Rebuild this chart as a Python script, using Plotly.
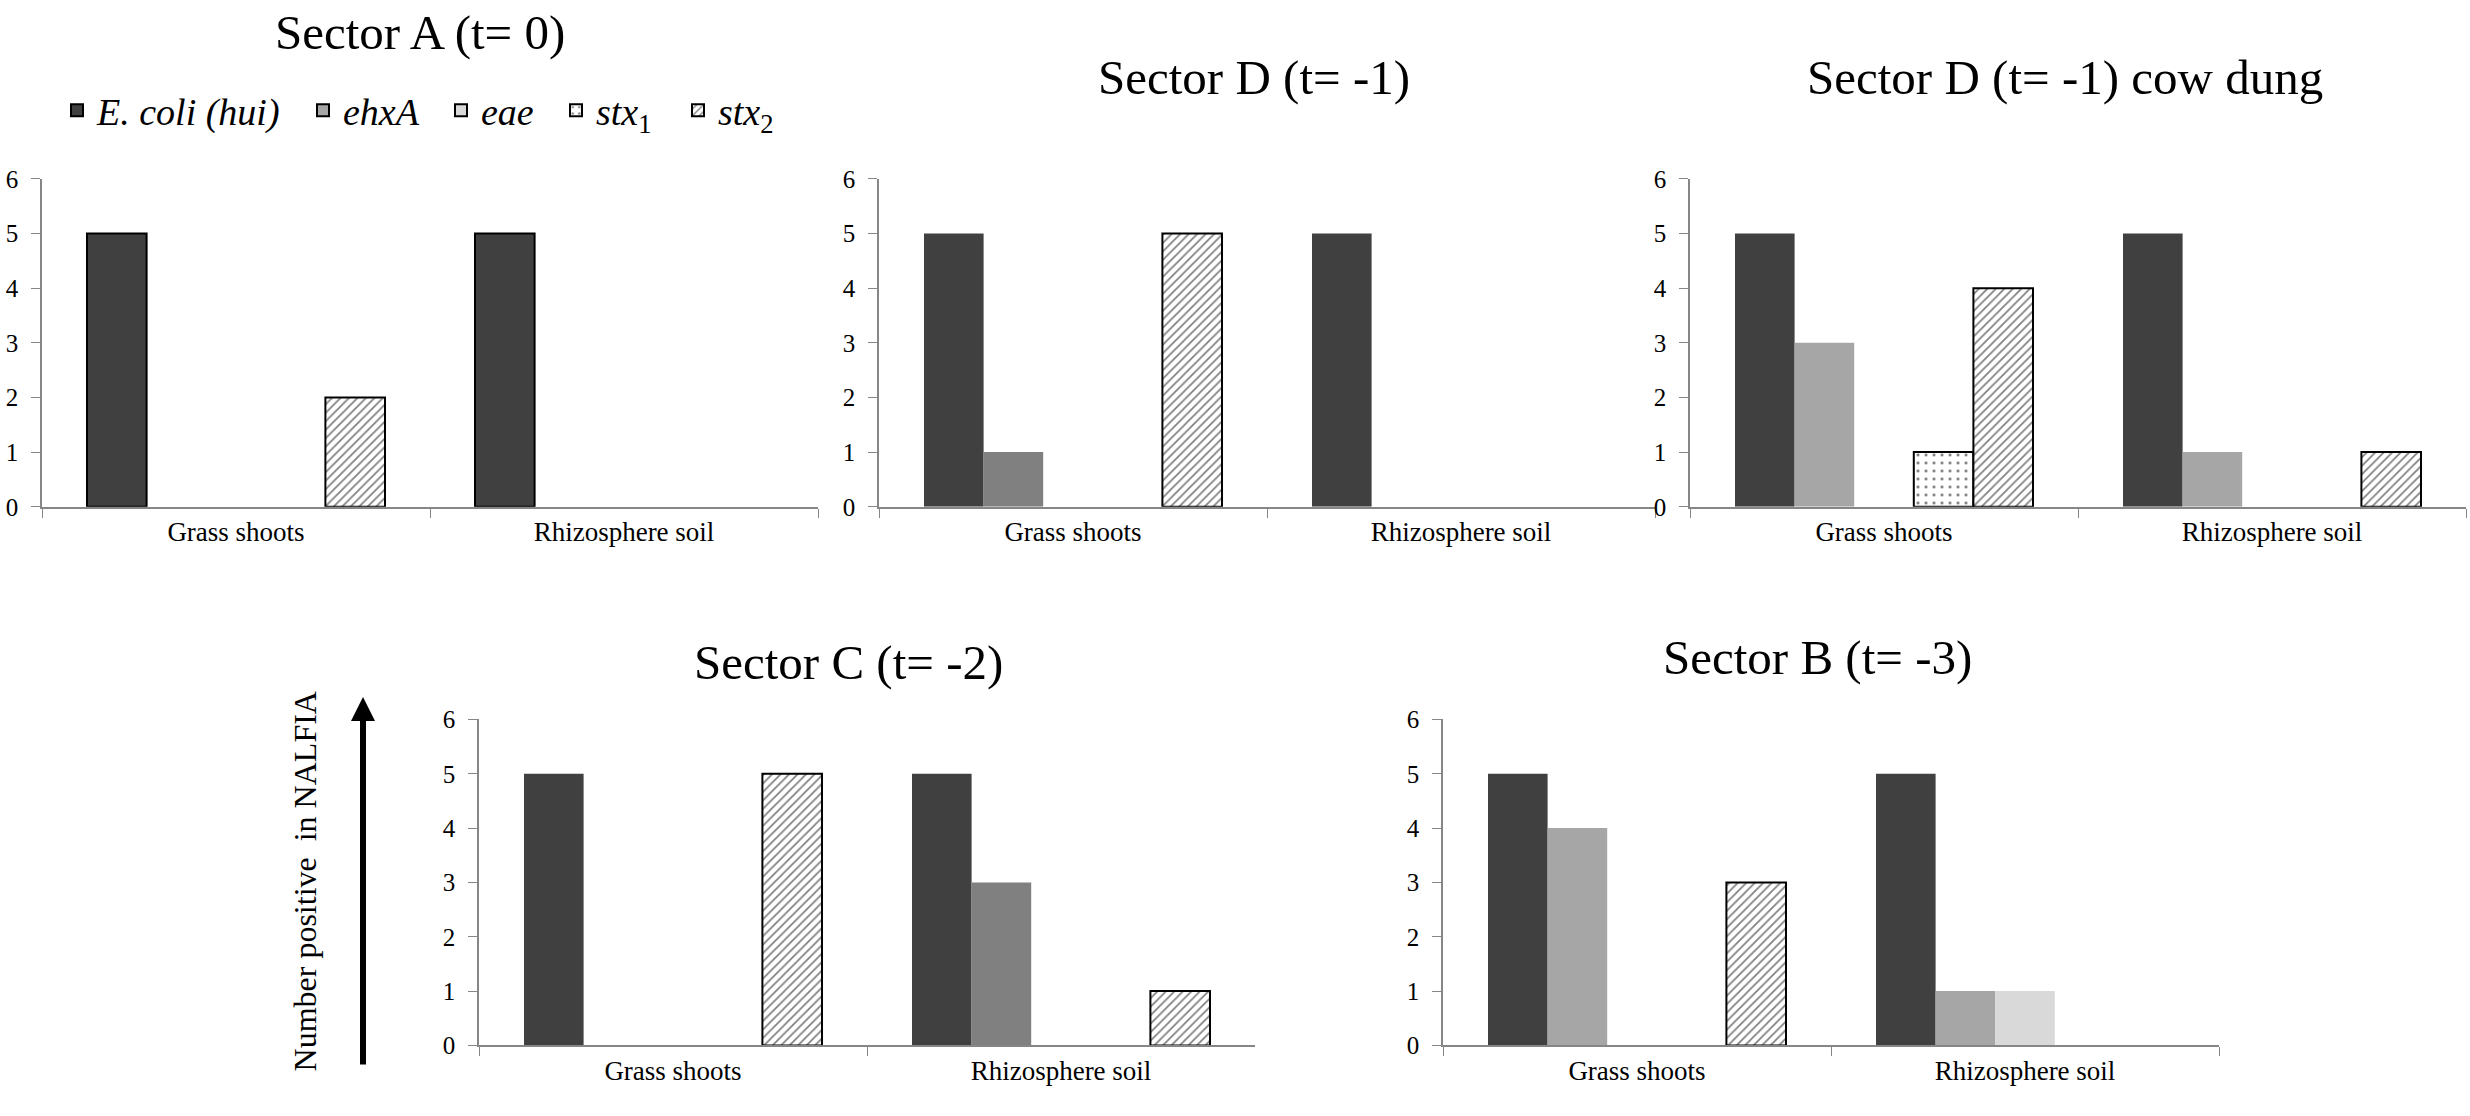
import plotly.graph_objects as go

W, H = 2470, 1116
FONT = "Liberation Serif, Times New Roman, serif"

categories = ["Grass shoots", "Rhizosphere soil"]
gene_names = ["<i>E. coli (hui)</i>", "<i>ehxA</i>", "<i>eae</i>",
              "<i>stx</i><sub>1</sub>", "<i>stx</i><sub>2</sub>"]
y_ticks = [0, 1, 2, 3, 4, 5, 6]

# number positive per gene: E. coli, ehxA, eae, stx1, stx2
a_grass = [5, 0, 0, 0, 2]
a_rhizo = [5, 0, 0, 0, 0]
d_grass = [5, 1, 0, 0, 5]
d_rhizo = [5, 0, 0, 0, 0]
dung_grass = [5, 3, 0, 1, 4]
dung_rhizo = [5, 1, 0, 0, 1]
c_grass = [5, 0, 0, 0, 5]
c_rhizo = [5, 3, 0, 0, 1]
b_grass = [5, 4, 0, 0, 3]
b_rhizo = [5, 1, 1, 0, 0]

titles = ["Sector A (t= 0)", "Sector D (t= -1)", "Sector D (t= -1) cow dung",
          "Sector C (t= -2)", "Sector B (t= -3)"]
y_label = "Number positive&nbsp; in NALFIA"


def px_x(v):
    return v / W


def px_y(v):
    return 1 - v / H


# panel layout in pixels: (x0, x1, y_top(6), y_bottom(0)), title centre, ehxA grey, outline all bars
panels = [
    (titles[0], a_grass, a_rhizo, (42, 818, 170, 506), (420, 20), "#a6a6a6", True),
    (titles[1], d_grass, d_rhizo, (879, 1655, 170, 506), (1254, 66), "#808080", False),
    (titles[2], dung_grass, dung_rhizo, (1690, 2466, 170, 506), (2065, 66), "#a6a6a6", False),
    (titles[3], c_grass, c_rhizo, (479, 1255, 724, 1058), (848, 666), "#808080", False),
    (titles[4], b_grass, b_rhizo, (1443, 2219, 724, 1058), (1817, 660), "#a6a6a6", False),
]

# left edge of each legend entry (one legend per gene so the spacing can follow the original)
legend_x = [57, 303, 441, 556, 678]
legend_y = 100

fig = go.Figure()
annotations = []
layout_extra = {}

for i, (title, grass, rhizo, box, tpos, ehxa_col, outline_all) in enumerate(panels):
    n = "" if i == 0 else str(i + 1)
    fills = ["#404040", ehxa_col, "#d9d9d9", "white", "white"]
    patterns = ["", "", "", ".", "/"]
    for g in range(5):
        # zero counts give no bar (avoids an outline drawn on the axis)
        vals = [v if v > 0 else None for v in (grass[g], rhizo[g])]
        patterned = patterns[g] != ""
        lw = 2 if (outline_all or patterned) else 0
        marker = dict(color=fills[g], line=dict(color="black", width=lw))
        if patterned:
            marker["pattern"] = dict(shape=patterns[g], fgcolor="black", bgcolor="white",
                                     size=8 if g == 3 else 6,
                                     solidity=0.12 if g == 3 else 0.28)
        fig.add_trace(go.Bar(
            x=categories, y=vals,
            name=gene_names[g], marker=marker,
            xaxis="x" + n, yaxis="y" + n,
            showlegend=(i == 0),
            legend="legend" if g == 0 else "legend" + str(g + 1),
        ))

    x0, x1, ytop, ybot = box
    layout_extra["xaxis" + n] = dict(
        domain=[px_x(x0), px_x(x1)], anchor="y" + n,
        showline=True, linecolor="#868686", linewidth=1.5,
        ticks="outside", tickson="boundaries", ticklen=9, tickcolor="#868686",
        tickfont=dict(family=FONT, size=27, color="black"),
        showgrid=False, zeroline=False, fixedrange=True,
    )
    layout_extra["yaxis" + n] = dict(
        domain=[px_y(ybot), px_y(ytop)], anchor="x" + n,
        range=[0, 6], tickvals=y_ticks,
        showline=True, linecolor="#868686", linewidth=1.5,
        ticks="outside", ticklen=9, tickcolor="#868686",
        tickfont=dict(family=FONT, size=25, color="black"),
        ticklabelstandoff=8,
        showgrid=False, zeroline=False, fixedrange=True,
    )
    annotations.append(dict(
        text=title, xref="paper", yref="paper",
        x=px_x(tpos[0]), y=px_y(tpos[1]), xanchor="center", yanchor="middle",
        showarrow=False, font=dict(family=FONT, size=49, color="black"),
    ))

for g, lx in enumerate(legend_x):
    key = "legend" if g == 0 else "legend" + str(g + 1)
    layout_extra[key] = dict(
        orientation="h", x=px_x(lx), y=px_y(legend_y), xanchor="left", yanchor="middle",
        font=dict(family=FONT, size=38, color="black"),
        bgcolor="rgba(0,0,0,0)",
    )

# shared y axis label and arrow
annotations.append(dict(
    text=y_label, xref="paper", yref="paper",
    x=px_x(305), y=px_y(890), xanchor="center", yanchor="middle",
    textangle=-90, showarrow=False, font=dict(family=FONT, size=32, color="black"),
))
annotations.append(dict(
    text="", xref="paper", yref="paper",
    x=px_x(363), y=px_y(701), ax=0, ay=369,
    showarrow=True, arrowhead=2, arrowsize=0.8, arrowwidth=6, arrowcolor="black",
))

fig.update_layout(
    width=W, height=H,
    margin=dict(l=0, r=0, t=0, b=0),
    paper_bgcolor="white", plot_bgcolor="white",
    barmode="group", bargap=0.232, bargroupgap=0,
    font=dict(family=FONT, color="black"),
    showlegend=True,
    annotations=annotations,
    **layout_extra,
)

fig.write_html("out.html", config={"displayModeBar": False},
               post_script="document.body.style.margin='0';")
